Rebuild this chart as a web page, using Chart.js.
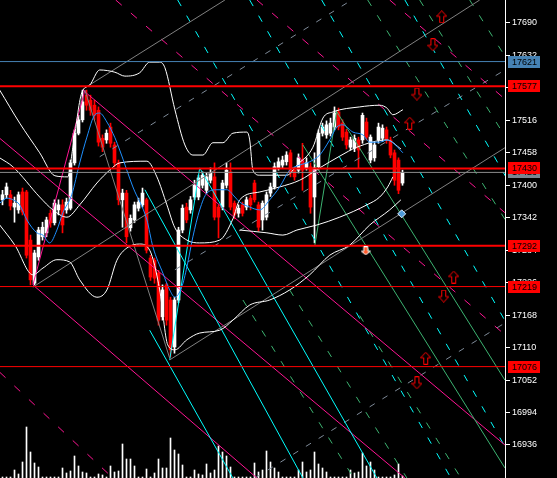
<!DOCTYPE html>
<html>
<head>
<meta charset="utf-8">
<script src="https://cdn.jsdelivr.net/npm/chart.js@4.4.1/dist/chart.umd.min.js"></script>
<style>
  html, body { margin: 0; padding: 0; background: #000; overflow: hidden; }
  #wrap { width: 557px; height: 478px; }
</style>
</head>
<body>
<div id="wrap"><canvas id="chart" width="557" height="478"></canvas></div>
<script>
// ========================================
// Price chart data (bar index, price)
// ========================================

const candleOpen = [17374,17383,17383,17361,17356,17388,17388,17302,17225,17272,17308,17315,17350,17333,17356,17365,17356,17359,17440,17493,
  17517,17561,17552,17543,17534,17484,17481,17504,17472,17440,17374,17386,17324,17338,17359,17365,17374,17270,17266,17243,
  17165,17222,17195,17111,17195,17320,17361,17356,17379,17379,17400,17391,17409,17415,17361,17361,17400,17424,17368,17350,
  17365,17361,17377,17404,17365,17338,17343,17386,17397,17431,17436,17442,17458,17427,17427,17445,17431,17433,17379,17433,
  17493,17490,17493,17504,17531,17511,17495,17468,17466,17481,17481,17513,17445,17449,17481,17484,17499,17481,17458,17445,17404];
const candleHigh = [17391,17404,17391,17379,17388,17395,17391,17311,17284,17325,17334,17343,17356,17374,17374,17374,17377,17445,17499,17525,
  17570,17570,17561,17552,17540,17490,17499,17511,17477,17445,17393,17391,17347,17370,17377,17395,17377,17275,17270,17248,
  17222,17225,17200,17200,17325,17365,17368,17380,17409,17418,17424,17422,17431,17440,17365,17409,17440,17440,17372,17365,
  17370,17379,17382,17409,17370,17372,17388,17404,17440,17449,17452,17460,17463,17431,17456,17475,17449,17440,17458,17499,
  17511,17515,17520,17540,17538,17517,17500,17486,17490,17486,17529,17520,17490,17477,17511,17508,17504,17486,17463,17449,17427];
const candleLow = [17365,17377,17356,17334,17350,17347,17270,17222,17222,17266,17302,17308,17325,17329,17347,17315,17350,17356,17436,17490,
  17513,17534,17525,17517,17470,17460,17475,17468,17433,17365,17325,17297,17318,17333,17354,17361,17279,17230,17225,17150,
  17159,17150,17093,17100,17190,17315,17333,17350,17374,17374,17395,17386,17404,17338,17306,17356,17395,17356,17340,17343,
  17345,17356,17356,17370,17318,17320,17338,17380,17393,17427,17431,17436,17415,17409,17422,17391,17427,17350,17297,17427,
  17488,17484,17488,17499,17499,17480,17465,17463,17460,17431,17475,17481,17440,17443,17475,17478,17475,17449,17400,17385,17400];
const candleClose = [17383,17397,17363,17368,17383,17352,17275,17231,17279,17320,17325,17338,17333,17368,17365,17329,17370,17440,17493,17517,
  17549,17543,17534,17525,17477,17468,17493,17475,17440,17374,17386,17308,17341,17365,17370,17386,17284,17236,17234,17159,
  17213,17159,17106,17195,17320,17359,17338,17374,17400,17413,17418,17415,17422,17343,17343,17404,17427,17361,17347,17359,
  17350,17374,17365,17374,17325,17368,17383,17397,17433,17442,17445,17454,17422,17415,17449,17427,17440,17361,17431,17493,
  17504,17508,17511,17529,17504,17486,17472,17481,17484,17463,17525,17486,17486,17472,17504,17502,17481,17454,17409,17391,17422];

// tick volume
const volumes = [100,100,100,800,400,1600,5100,2600,1500,1100,100,100,100,100,100,1000,500,700,2200,1200,
  600,500,100,100,400,300,100,1200,600,700,3400,1900,1900,1200,100,100,900,100,500,1900,
  1000,1000,4000,2800,2400,1300,100,100,800,400,300,1400,500,800,3200,2600,2200,1100,100,100,
  100,100,100,1500,600,800,2700,1600,1000,600,100,100,100,100,800,1600,600,800,2600,1400,
  1000,600,100,100,100,100,100,800,500,600,2500,1200,1600,800,100,100,100,100,300,1400,200];

// Bollinger bands and moving average
const upperBand = [[-0.7,17570],[4.3,17511],[9.3,17458],[13.1,17417],[16.3,17415],[17.6,17468],[19.8,17565],[21.8,17579],
  [24.3,17606],[28.1,17602],[30.6,17595],[34.3,17601],[36.8,17620],[39.3,17620],[40.6,17610],[43.1,17535],[45.6,17472],
  [47.6,17454],[50.1,17454],[52.6,17476],[55.1,17476],[57.6,17493],[61.1,17495],[61.8,17481],[62.6,17427],[64.3,17418],
  [71.1,17418],[73.6,17436],[77.6,17468],[80.1,17520],[82.6,17531],[89.3,17540],[94.3,17543],[96.1,17538],[97.6,17526],[100.1,17535]];
const middleBand = [[-0.7,17449],[2.6,17433],[9.3,17379],[12.6,17356],[16.1,17343],[19.3,17365],[23.6,17404],[26.8,17427],
  [29.3,17440],[36.1,17443],[38.6,17415],[41.1,17365],[43.1,17324],[46.1,17302],[49.3,17297],[54.3,17302],[57.6,17340],
  [59.3,17374],[64.3,17388],[69.3,17397],[74.3,17409],[79.3,17431],[84.3,17452],[88.6,17468],[96.1,17481],[99.6,17465]];
const lowerBand = [[-0.7,17329],[3.1,17293],[7.6,17240],[10.1,17252],[13.6,17267],[16.8,17263],[19.3,17231],[23.6,17200],
  [26.1,17213],[28.6,17266],[31.1,17288],[34.3,17295],[36.8,17284],[39.3,17213],[41.3,17115],[43.1,17106],[46.1,17124],
  [49.3,17136],[54.3,17141],[57.6,17159],[61.8,17186],[66.8,17195],[71.8,17213],[76.8,17240],[81.8,17275],[86.8,17293],
  [91.8,17329],[96.8,17356],[99.6,17374]];
const innerBand = [[59.3,17320],[66.1,17315],[70.1,17311],[73.6,17320],[78.6,17329],[84.3,17343],[91.1,17365],[94.3,17379],
  [96.3,17397],[97.6,17415]];
const maLine = [[-0.7,17368],[1.1,17377],[2.6,17374],[4.3,17365],[6.1,17338],[8.6,17315],[10.1,17311],[11.8,17297],[13.6,17320],
  [15.1,17351],[17.3,17383],[19.3,17440],[21.1,17486],[23.1,17526],[24.3,17529],[26.1,17513],[28.1,17485],[29.3,17463],
  [32.6,17397],[36.1,17338],[37.6,17290],[40.1,17243],[41.8,17213],[43.1,17200],[44.8,17218],[46.1,17254],[47.6,17308],
  [49.3,17356],[51.1,17386],[53.6,17392],[56.1,17392],[58.1,17379],[59.3,17370],[61.8,17361],[64.3,17356],[66.8,17374],
  [69.3,17397],[71.8,17427],[74.3,17436],[76.8,17442],[79.3,17454],[81.8,17481],[83.6,17504],[85.1,17508],[87.6,17495],
  [90.1,17490],[91.8,17477],[94.3,17477],[96.1,17481],[97.6,17476],[100.1,17458]];

// right scale
const tickValues = [17690,17632,17574,17516,17458,17400,17342,17284,17226,17168,17110,17052,16994,16936];
const redLevels = [17577, 17430, 17292, 17219, 17076];
const blueLevel = 17621;
const bidLevel = 17423;

// trend lines: [[index, price], [index, price]]
const pinkSolid = [
  [[-0.7,17484],[100.6,16877]],
  [[7.6,17222],[63.6,16877]],
  [[20.1,17570],[125.6,16936]],
  [[7.6,17222],[20.6,17570]]
];
const pinkDash = [
  [[28.3,17731],[125.6,17133]],
  [[63.6,17731],[125.6,17351]],
  [[96.8,17731],[125.6,17554]],
  [[-0.7,17066],[27.6,16877]]
];
const cyanSolid = [
  [[41.8,17088],[49.3,17431]],
  [[35.6,17392],[75.1,16877]],
  [[49.3,17431],[93.6,16877]],
  [[36.8,17141],[57.6,16877]]
];
const cyanDash = [
  [[43.8,17731],[112.1,16877]],
  [[61.8,17731],[130.1,16877]],
  [[79.8,17731],[148.1,16877]],
  [[100.6,17731],[168.8,16877]]
];
const greenSolid = [
  [[78.1,17293],[83.6,17535]],
  [[75.1,17472],[125.6,16895]],
  [[83.6,17531],[125.6,17052]]
];
const greenDash = [
  [[91.3,17731],[166.1,16877]],
  [[104.3,17731],[179.1,16877]],
  [[116.8,17731],[191.6,16877]],
  [[60.1,17195],[87.8,16877]],
  [[71.8,17213],[101.1,16877]],
  [[89.3,17167],[114.6,16877]]
];
const graySolid = [
  [[7.6,17218],[119.3,17731]],
  [[20.6,17574],[55.6,17731]],
  [[41.8,17088],[125.6,17467]],
  [[20.6,17570],[41.8,17091]]
];
const grayDash = [
  [[24.3,17451],[87.3,17731]],
  [[63.1,16877],[125.6,17154]],
  [[43.1,17249],[125.6,17606]]
];

// signal markers
const upArrows = [[109.8,17701],[101.8,17511],[112.8,17236],[105.8,17091]];
const downArrows = [[107.6,17651],[103.6,17563],[110.3,17202],[103.6,17047]];
const orangeArrows = [[90.8,17283]];
const diamondMarks = [[99.8,17349]];

// price boxes on the right scale
const priceBoxes = [bidLevel, blueLevel, ...redLevels];
const priceBoxColors = ['#7a8591', '#4682b4', '#ff0000', '#ff0000', '#ff0000', '#ff0000', '#ff0000'];

// ========================================
// Helpers
// ========================================

const X_MIN = -0.625;
const X_MAX = 125.625;
const FONT = 'Liberation Sans';

function pts(list) {
    return list.map(p => ({ x: p[0], y: p[1] }));
}

function lineSets(list, color, dash, order) {
    return list.map(seg => ({
        type: 'line',
        data: pts(seg),
        borderColor: color,
        borderWidth: 1,
        borderDash: dash,
        pointRadius: 0,
        pointHoverRadius: 0,
        fill: false,
        order: order
    }));
}

function levelSet(price, color, width, order) {
    return {
        type: 'line',
        data: [{ x: X_MIN, y: price }, { x: X_MAX, y: price }],
        borderColor: color,
        borderWidth: width,
        pointRadius: 0,
        pointHoverRadius: 0,
        fill: false,
        order: order
    };
}

function bandSet(list, color, order) {
    return {
        type: 'line',
        data: pts(list),
        borderColor: color,
        borderWidth: 1,
        pointRadius: 0,
        pointHoverRadius: 0,
        cubicInterpolationMode: 'monotone',
        fill: false,
        order: order
    };
}

// hollow block arrow drawn on a small canvas, used as point style
function makeArrow(up, stroke, fill, w, h) {
    const c = document.createElement('canvas');
    c.width = w;
    c.height = h;
    const g = c.getContext('2d');
    if (!up) {
        g.translate(0, h);
        g.scale(1, -1);
    }
    const mid = w / 2;
    const headH = Math.round(h * 0.45);
    const sw = Math.max(1.5, Math.round(w * 0.2));
    g.beginPath();
    g.moveTo(mid, 0.5);
    g.lineTo(w - 0.5, headH);
    g.lineTo(mid + sw, headH);
    g.lineTo(mid + sw, h - 0.5);
    g.lineTo(mid - sw, h - 0.5);
    g.lineTo(mid - sw, headH);
    g.lineTo(0.5, headH);
    g.closePath();
    g.fillStyle = fill;
    g.fill();
    g.strokeStyle = stroke;
    g.lineWidth = 1;
    g.stroke();
    return c;
}

const upImg = makeArrow(true, '#ff0000', '#000000', 11, 13);
const downImg = makeArrow(false, '#ff0000', '#000000', 11, 13);
const orangeImg = makeArrow(false, '#ffffff', '#ff5a2a', 10, 9);

// ========================================
// Datasets
// ========================================

const idx = candleOpen.map((_, i) => i);
const isBull = idx.map(i => candleClose[i] >= candleOpen[i]);
const candleColor = idx.map(i => isBull[i] ? '#ffffff' : '#ff0000');

const datasets = [];

datasets.push({
    type: 'bar',
    yAxisID: 'yv',
    data: volumes.map((v, i) => ({ x: i, y: v })),
    backgroundColor: '#ffffff',
    barThickness: 1,
    grouped: false,
    order: 20
});

datasets.push({
    type: 'bar',
    data: idx.map(i => ({ x: i, y: [candleLow[i], candleHigh[i]] })),
    backgroundColor: candleColor,
    barThickness: 1,
    grouped: false,
    order: 19
});

datasets.push({
    type: 'bar',
    data: idx.map(i => ({ x: i, y: [candleOpen[i], candleClose[i]] })),
    backgroundColor: candleColor,
    barThickness: 3,
    minBarLength: 1,
    grouped: false,
    order: 18
});

datasets.push(...lineSets(grayDash, '#7f8b99', [6, 9], 12));
datasets.push(...lineSets(greenDash, '#3cb371', [7, 11], 12));
datasets.push(...lineSets(cyanDash, '#00ffff', [7, 11], 12));
datasets.push(...lineSets(pinkDash, '#ff1493', [8, 12], 12));
datasets.push(...lineSets(graySolid, '#808080', [], 11));
datasets.push(...lineSets(greenSolid, '#3cb371', [], 11));
datasets.push(...lineSets(cyanSolid, '#00ffff', [], 11));
datasets.push(...lineSets(pinkSolid, '#ff1493', [], 11));

datasets.push(bandSet(upperBand, '#ffffff', 10));
datasets.push(bandSet(middleBand, '#ffffff', 10));
datasets.push(bandSet(lowerBand, '#ffffff', 10));
datasets.push(bandSet(innerBand, '#ffffff', 10));
datasets.push(bandSet(maLine, '#1e90ff', 9));

datasets.push(levelSet(bidLevel, '#8c8c8c', 1, 8));
datasets.push(levelSet(blueLevel, '#4682b4', 1, 7));
redLevels.forEach((p, k) => datasets.push(levelSet(p, '#ff0000', k < 3 ? 2 : 1, 6)));

datasets.push({
    type: 'scatter',
    data: pts(upArrows),
    pointStyle: upImg,
    pointHoverRadius: 0,
    order: 2
});
datasets.push({
    type: 'scatter',
    data: pts(downArrows),
    pointStyle: downImg,
    pointHoverRadius: 0,
    order: 2
});
datasets.push({
    type: 'scatter',
    data: pts(orangeArrows),
    pointStyle: orangeImg,
    pointHoverRadius: 0,
    order: 2
});
datasets.push({
    type: 'scatter',
    data: pts(diamondMarks),
    pointStyle: 'rectRot',
    pointRadius: 4,
    pointHoverRadius: 0,
    backgroundColor: '#4f9bd9',
    borderColor: '#dfefff',
    borderWidth: 1,
    order: 2
});

// price boxes drawn over the right scale
const priceBoxPlugin = {
    id: 'priceBoxes',
    afterDraw(chart) {
        const g = chart.ctx;
        const ys = chart.scales.y;
        const left = chart.chartArea.right + 3;
        g.save();
        g.font = '9px "' + FONT + '"';
        g.textBaseline = 'middle';
        g.textAlign = 'left';
        priceBoxes.forEach((p, k) => {
            const y = Math.round(ys.getPixelForValue(p));
            g.fillStyle = priceBoxColors[k];
            g.fillRect(left, y - 6, 32, 12);
            g.fillStyle = '#000000';
            g.fillText(String(p), left + 4, y + 0.5);
        });
        g.restore();
    }
};

// the scale labels sit well inside the plot, so no edge padding is needed
function noEdgePadding(s) {
    s.paddingTop = 0;
    s.paddingBottom = 0;
    s.paddingLeft = 0;
    s.paddingRight = 0;
}

new Chart(document.getElementById('chart'), {
    type: 'bar',
    data: { datasets: datasets },
    plugins: [priceBoxPlugin],
    options: {
        responsive: false,
        animation: false,
        events: [],
        layout: { padding: 0, autoPadding: false },
        plugins: {
            legend: { display: false },
            tooltip: { enabled: false }
        },
        scales: {
            x: {
                type: 'linear',
                min: X_MIN,
                max: X_MAX,
                offset: false,
                display: false,
                afterFit: noEdgePadding
            },
            y: {
                type: 'linear',
                position: 'right',
                min: 16877,
                max: 17731,
                afterBuildTicks: s => { s.ticks = tickValues.map(v => ({ value: v })); },
                afterFit: s => { s.width = 52; noEdgePadding(s); },
                ticks: {
                    color: '#ffffff',
                    font: { family: FONT, size: 9 },
                    padding: 2,
                    autoSkip: false,
                    callback: v => String(v)
                },
                grid: {
                    drawOnChartArea: false,
                    drawTicks: true,
                    tickLength: 5,
                    color: '#ffffff'
                },
                border: { color: '#ffffff', width: 1 }
            },
            yv: {
                type: 'linear',
                display: false,
                min: 0,
                max: 47800,
                afterFit: noEdgePadding
            }
        }
    }
});
</script>
</body>
</html>
